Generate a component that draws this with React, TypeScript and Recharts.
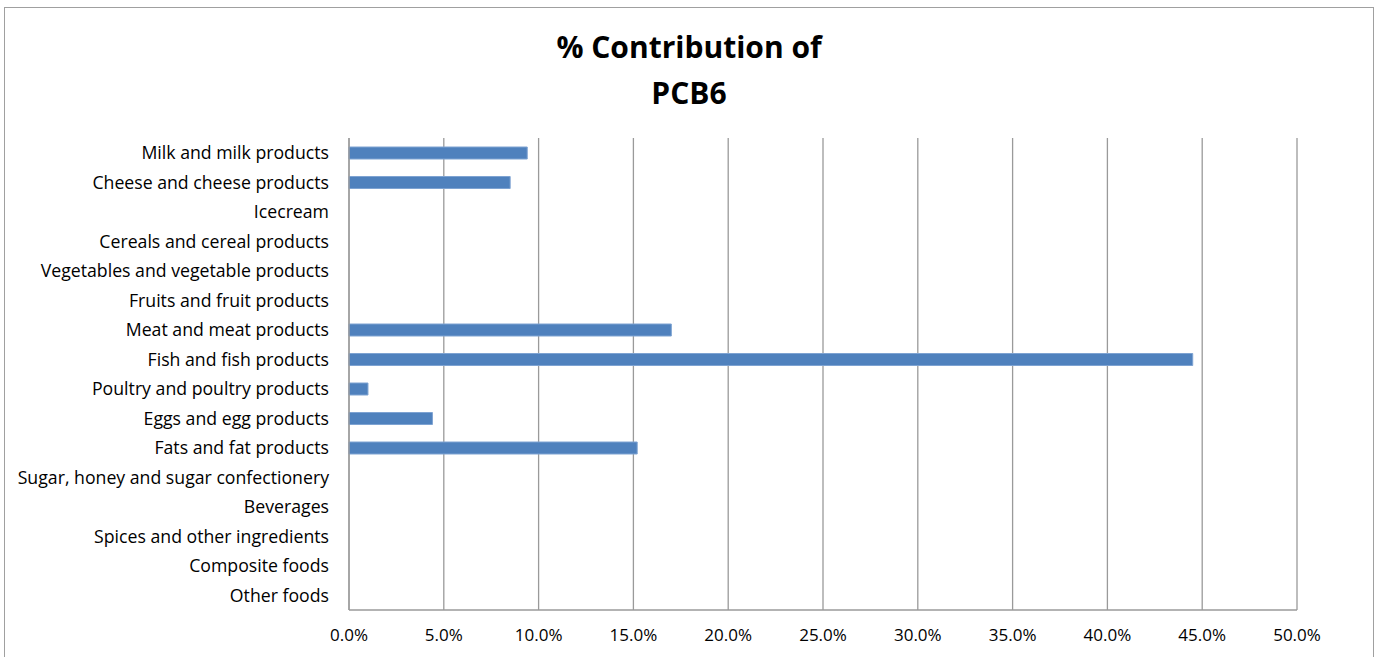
import React from 'react';
import { BarChart, Bar, XAxis, YAxis, CartesianGrid } from 'recharts';

const categories = [
  'Milk and milk products',
  'Cheese and cheese products',
  'Icecream',
  'Cereals and cereal products',
  'Vegetables and vegetable products',
  'Fruits and fruit products',
  'Meat and meat products',
  'Fish and fish products',
  'Poultry and poultry products',
  'Eggs and egg products',
  'Fats and fat products',
  'Sugar, honey and sugar confectionery',
  'Beverages',
  'Spices and other ingredients',
  'Composite foods',
  'Other foods',
];

const contribution = [9.4, 8.5, 0, 0, 0, 0, 17.0, 44.5, 1.0, 4.4, 15.2, 0, 0, 0, 0, 0];

const xTicks = [0, 5, 10, 15, 20, 25, 30, 35, 40, 45, 50];

const titleLines = ['% Contribution of', 'PCB6'];

const data = categories.map((name, i) => ({ name, value: contribution[i] }));

const FONT = '"Open Sans", Lato, sans-serif';

export default function App() {
  return (
    <div style={{ position: 'absolute', left: 0, top: 0, width: 1378, height: 657, overflow: 'hidden', background: '#fff' }}>
      <div
        style={{
          position: 'absolute',
          left: 4,
          top: 7,
          width: 1368,
          height: 700,
          border: '1px solid #a0a0a0',
        }}
      />
      <div
        style={{
          position: 'absolute',
          left: 0,
          top: 24,
          width: 1378,
          textAlign: 'center',
          fontFamily: FONT,
          fontWeight: 'bold',
          fontSize: 30,
          lineHeight: '46px',
          color: '#000',
        }}
      >
        {titleLines.map((t) => (
          <div key={t}>{t}</div>
        ))}
      </div>
      <div style={{ position: 'absolute', left: 0, top: 0 }}>
        <BarChart
          width={1378}
          height={657}
          data={data}
          layout="vertical"
          margin={{ top: 138, right: 81, bottom: 17, left: 0 }}
          barSize={12}
        >
          <CartesianGrid horizontal={false} vertical={true} stroke="#9a9a9a" strokeWidth={1.3} />
          <XAxis
            type="number"
            domain={[0, 50]}
            ticks={xTicks}
            interval={0}
            tickFormatter={(v: number) => v.toFixed(1) + '%'}
            axisLine={{ stroke: '#9a9a9a', strokeWidth: 1.3 }}
            tickLine={false}
            tickSize={0}
            tickMargin={19}
            height={30}
            tick={{ fill: '#000', fontSize: 17, fontFamily: FONT }}
          />
          <YAxis
            type="category"
            dataKey="name"
            width={349}
            interval={0}
            axisLine={{ stroke: '#9a9a9a', strokeWidth: 1.3 }}
            tickLine={false}
            tickSize={0}
            tickMargin={20}
            tick={{ fill: '#000', fontSize: 17.7, fontFamily: FONT }}
          />
          <Bar dataKey="value" fill="#4F81BD" stroke="#7ea3d2" strokeWidth={1} isAnimationActive={false} />
        </BarChart>
      </div>
    </div>
  );
}
